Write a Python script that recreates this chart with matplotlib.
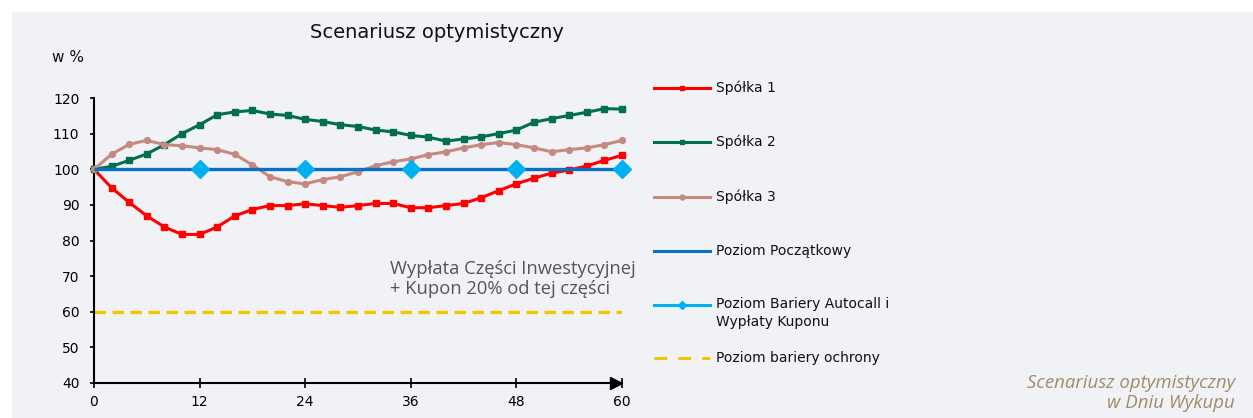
import matplotlib
matplotlib.use("Agg")
import matplotlib.pyplot as plt
from matplotlib.patches import Rectangle
from matplotlib.lines import Line2D

# ---------------- data ----------------
months = [0, 2, 4, 6, 8, 10, 12, 14, 16, 18, 20, 22, 24, 26, 28, 30,
          32, 34, 36, 38, 40, 42, 44, 46, 48, 50, 52, 54, 56, 58, 60]
spolka1 = [100, 94.8, 90.7, 86.9, 83.8, 81.7, 81.7, 83.8, 86.9, 88.7, 89.8, 89.8,
           90.3, 89.8, 89.3, 89.8, 90.4, 90.4, 89.2, 89.2, 89.8, 90.4, 92.0, 94.0,
           95.9, 97.5, 98.9, 99.8, 100.9, 102.5, 103.9]
spolka2 = [100, 100.8, 102.5, 104.3, 106.9, 110.0, 112.5, 115.3, 116.1, 116.5, 115.5,
           115.1, 114.0, 113.4, 112.5, 112.0, 111.0, 110.5, 109.5, 109.0, 107.9, 108.5,
           109.1, 110.0, 111.0, 113.2, 114.2, 115.1, 116.0, 117.0, 116.9]
spolka3 = [100, 104.2, 107.0, 108.1, 106.9, 106.6, 106.0, 105.5, 104.2, 101.2, 97.9,
           96.5, 95.9, 97.1, 97.9, 99.3, 101.0, 102.1, 102.9, 104.1, 104.9, 106.0, 106.9,
           107.5, 106.9, 106.0, 104.9, 105.5, 106.0, 106.9, 108.1]
poziom_poczatkowy = 100
autocall_months = [12, 24, 36, 48, 60]
autocall_level = [100, 100, 100, 100, 100]
bariera_ochrony = 60

x_ticks = [0, 12, 24, 36, 48, 60]
y_ticks = [40, 50, 60, 70, 80, 90, 100, 110, 120]

labels = ["Spółka 1", "Spółka 2", "Spółka 3", "Poziom Początkowy",
          "Poziom Bariery Autocall i\nWypłaty Kuponu", "Poziom bariery ochrony"]
title = "Scenariusz optymistyczny"
ylabel = "w %"
note = "Wypłata Części Inwestycyjnej\n+ Kupon 20% od tej części"
corner = "Scenariusz optymistyczny\nw Dniu Wykupu"

# ---------------- style ----------------
W, H = 1253, 418
fig = plt.figure(figsize=(W / 100, H / 100), dpi=100, facecolor="white")
bg = "#f1f2f6"
fig.patches.append(Rectangle((12 / W, 0), 1 - 12 / W, 1 - 12 / H,
                             transform=fig.transFigure, facecolor=bg,
                             edgecolor="none", zorder=-10))

ax = fig.add_axes([94 / W, 1 - 383 / H, (622 - 94) / W, (383 - 98) / H])
ax.set_facecolor("none")

c_red = "#ff0000"
c_green = "#00704a"
c_pink = "#c48a80"
c_blue = "#0a70c4"
c_cyan = "#00b0f0"
c_yellow = "#f5c400"

ax.axhline(bariera_ochrony, color=c_yellow, lw=2.4, dashes=(3.4, 2.0), zorder=2)
ax.plot(months, spolka1, color=c_red, lw=2.2, marker="s", ms=4.5, zorder=3, clip_on=False)
ax.plot(months, spolka2, color=c_green, lw=2.2, marker="s", ms=4.5, zorder=3, clip_on=False)
ax.plot(months, spolka3, color=c_pink, lw=2.2, marker="o", ms=4.2, zorder=3, clip_on=False)
ax.plot([months[0], months[-1]], [poziom_poczatkowy] * 2, color=c_blue, lw=2.4, zorder=4,
        solid_capstyle="butt", clip_on=False)
ax.plot(autocall_months, autocall_level, color=c_cyan, lw=0, marker="D", ms=9,
        zorder=5, clip_on=False)

ax.set_xlim(0, 60)
ax.set_ylim(40, 120)
ax.set_xticks(x_ticks)
ax.set_yticks(y_ticks)
for s in ["top", "right"]:
    ax.spines[s].set_visible(False)
for s in ["left", "bottom"]:
    ax.spines[s].set_linewidth(1.5)
    ax.spines[s].set_color("black")
ax.tick_params(axis="y", direction="out", length=3, width=1.2, pad=7.5,
               labelsize=10, colors="black")
ax.tick_params(axis="x", direction="inout", length=7, width=1.2, pad=5.5,
               labelsize=10, colors="black")
# arrow head at end of x axis
ax.plot(0.9895, 0, marker=">", color="black", ms=8, transform=ax.transAxes,
        clip_on=False, zorder=6)

fig.text(437 / W, 1 - 33 / H, title, ha="center", va="center", fontsize=14,
         color="#111111", family="DejaVu Sans")
fig.text(52 / W, 1 - 57 / H, ylabel, ha="left", va="center", fontsize=11,
         color="#111111")

fig.text(390 / W, 1 - 279 / H, note, ha="left", va="center",
         fontsize=13.2, color="#555555", family="Open Sans",
         linespacing=1.1)

fig.text(1235 / W, 1 - 393 / H, corner, ha="right", va="center", fontsize=13.4,
         color="#a08c68", family="Open Sans", style="italic",
         multialignment="right", linespacing=1.08)

# legend drawn manually in figure coordinates
leg_y = [88, 142, 197, 251, 305, 358]
leg_styles = [
    dict(color=c_red, lw=2.2, marker="s", ms=3.5),
    dict(color=c_green, lw=2.2, marker="s", ms=3.5),
    dict(color=c_pink, lw=2.2, marker="o", ms=3.5),
    dict(color=c_blue, lw=2.2),
    dict(color=c_cyan, lw=2.2, marker="D", ms=4),
    dict(color=c_yellow, lw=2.2, dashes=(4.2, 3.6)),
]
for y, lab, st in zip(leg_y, labels, leg_styles):
    yf = 1 - y / H
    xs = [654 / W, 682 / W, 710 / W]
    fig.add_artist(Line2D(xs, [yf] * 3, transform=fig.transFigure,
                          markevery=[1] if "marker" in st else None, **st))
    if "\n" in lab:
        fig.text(716 / W, 1 - 313 / H, lab, ha="left", va="center", fontsize=10,
                 color="#111111", linespacing=1.35)
    else:
        fig.text(716 / W, yf, lab, ha="left", va="center", fontsize=10, color="#111111")

fig.savefig("out.png", dpi=100, facecolor="white")
